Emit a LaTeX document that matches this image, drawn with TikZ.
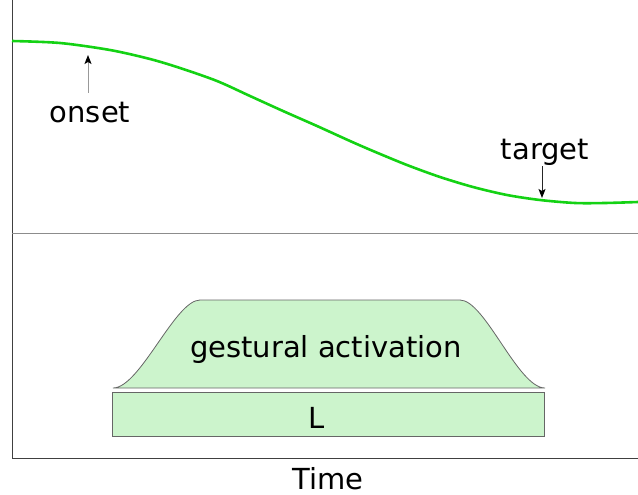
\documentclass[tikz,border=0pt]{standalone}
\usepackage{fontspec}
\setmainfont{DejaVu Sans}
\usetikzlibrary{arrows.meta}
\definecolor{curvegreen}{RGB}{20,210,20}
\definecolor{actfill}{RGB}{204,244,204}
\tikzset{
  lbl/.style={anchor=base, inner sep=0pt, font=\fontsize{29}{34}\selectfont},
  axisline/.style={draw=black!75, line width=1pt},
  actshape/.style={fill=actfill, draw=black!60, line width=0.8pt},
  pointer/.style={line width=1pt, -{Stealth[black,length=9pt,width=7pt,inset=2pt]}}
}
\begin{document}
\begin{tikzpicture}[x=1pt,y=-1pt]
  \useasboundingbox (0,0) rectangle (638,495);
  % axes
  \coordinate (top) at (12,0);
  \coordinate (origin) at (12,458);
  \coordinate (end) at (638,458);
  \coordinate (sepl) at (12,233);
  \coordinate (sepr) at (638,233);
  \draw[axisline] (top) -- (origin) -- (end);
  \draw[black!45, line width=0.8pt] (sepl) -- (sepr);
  % trajectory
  \draw[curvegreen, line width=2.6pt] plot[smooth] coordinates {
    (12,41) (60,43) (110,50) (150,59) (180,68) (217,81) (250,96)
    (283,111) (317,126) (350,141) (373,151) (407,165) (440,177)
    (473,187) (507,195) (540,200) (575,203) (605,203) (638,202)};
  % labels with pointers
  \node[lbl] (onset) at (90,123) {onset};
  \coordinate (onsettip) at (88,55);
  \draw[pointer, black!40] (88,93) -- (onsettip);
  \node[lbl] (target) at (545,159) {target};
  \coordinate (targettip) at (542,198);
  \draw[pointer, black!85] (542,166) -- (targettip);
  % gestural activation
  \draw[actshape] (113,388) .. controls (140,388) and (175,300) .. (200,300)
    -- (460,300) .. controls (485,300) and (518,388) .. (545,388) -- cycle;
  \node[lbl] (act) at (326,357) {gestural activation};
  \draw[actshape] (112,392) rectangle (544,436);
  \node[lbl] (L) at (317,428) {L};
  \node[lbl] (time) at (328,489) {Time};
\end{tikzpicture}
\end{document}
